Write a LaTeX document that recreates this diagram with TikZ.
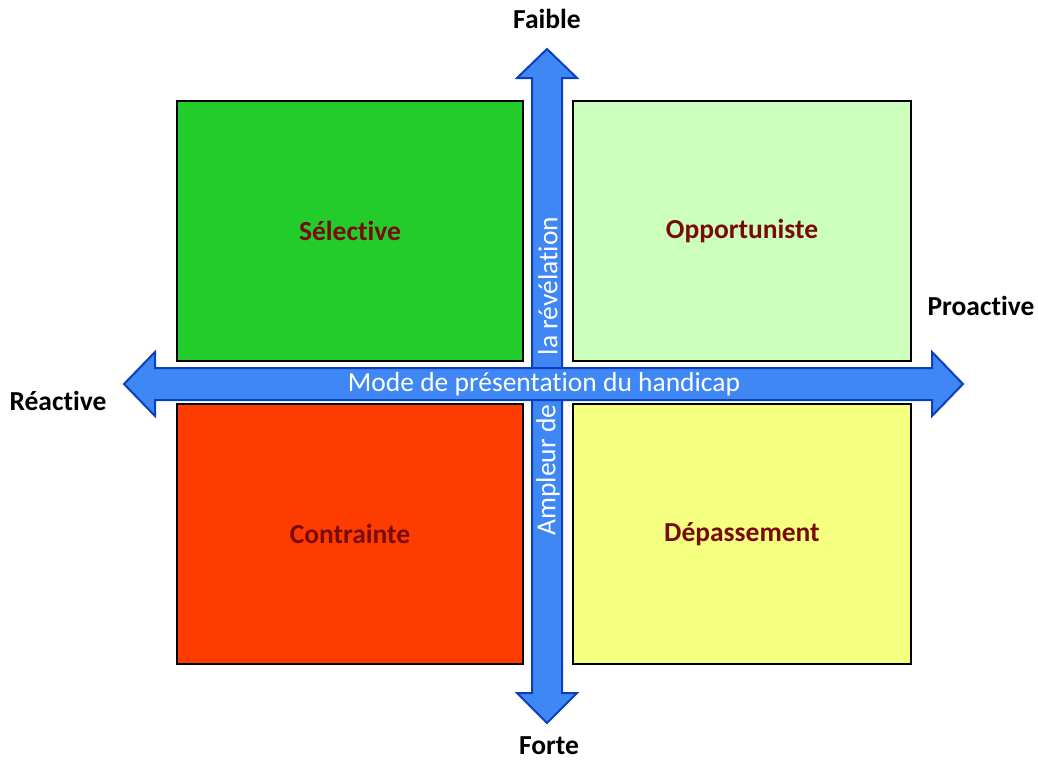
\documentclass[tikz,border=0pt]{standalone}
\usepackage{fontspec}
\setmainfont[RawFeature={-liga;-clig;-calt;-dlig}]{Carlito}
\definecolor{qgreen}{HTML}{22CC2A}
\definecolor{qlgreen}{HTML}{CCFFBB}
\definecolor{qred}{HTML}{FF3C00}
\definecolor{qyellow}{HTML}{F5FF80}
\definecolor{qtext}{HTML}{7A0A0A}
\definecolor{afill}{HTML}{3F87F5}
\definecolor{aline}{HTML}{0B3FBF}
\tikzset{
  quad/.style={draw=black, line width=2.8pt, inner sep=0pt, font=\fontsize{27.5}{32}\selectfont\bfseries, text=qtext},
  axlab/.style={font=\fontsize{27.5}{32}\selectfont\bfseries, text=black, inner sep=0pt},
  arr/.style={fill=afill, draw=aline, line width=2pt, line join=miter},
  intxt/.style={font=\fontsize{27.5}{32}\selectfont, text=white, inner sep=0pt}
}
\begin{document}
\begin{tikzpicture}[x=1pt,y=-1pt]
\useasboundingbox (0,0) rectangle (1038,760);
% quadrants
\node[quad, fill=qgreen, minimum width=346pt, minimum height=260pt] (q1) at (350,231) {Sélective};
\node[quad, fill=qlgreen, minimum width=338pt, minimum height=260pt] (q2) at (742,231) {Opportuniste};
\node[quad, fill=qred, minimum width=346pt, minimum height=260pt] (q3) at (350,534) {Contrainte};
\node[quad, fill=qyellow, minimum width=338pt, minimum height=260pt] (q4) at (742,534) {Dépassement};
% vertical arrow
\draw[arr] (532,693) -- (532,78) -- (517,78) -- (547,49) -- (577,78) -- (562,78) -- (562,693) -- (577,693) -- (547,723) -- (517,693) -- cycle;
% horizontal arrow
\draw[arr] (155,368) -- (932,368) -- (932,352) -- (963,384) -- (932,416) -- (932,400) -- (155,400) -- (155,416) -- (124,384) -- (155,352) -- cycle;
% texts on arrows
\node[intxt] (h) at (544,384) {Mode de présentation du handicap};
\node[intxt, rotate=90] (v1) at (548,286) {la révélation};
\node[intxt, rotate=90] (v2) at (548,470) {Ampleur de};
% axis labels
\node[axlab] (faible) at (547,19) {Faible};
\node[axlab] (forte) at (549,746) {Forte};
\node[axlab] (reac) at (58,401) {Réactive};
\node[axlab] (proac) at (981,306) {Proactive};
\end{tikzpicture}
\end{document}
